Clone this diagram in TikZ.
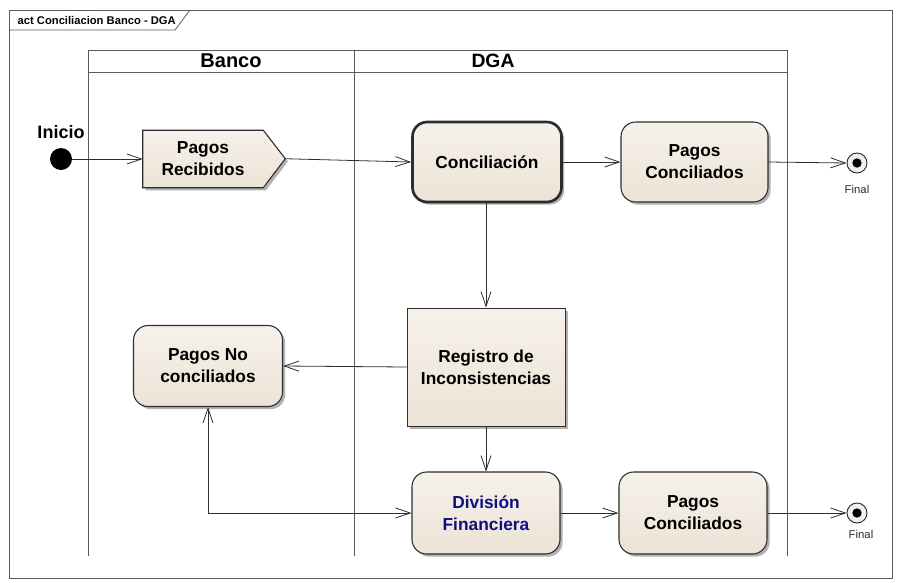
\documentclass[tikz,border=0pt]{standalone}
\usepackage{fontspec}
\setmainfont{Liberation Sans}
\usetikzlibrary{arrows.meta,shadows}
\definecolor{actfillA}{RGB}{246,241,234}
\definecolor{actfillB}{RGB}{236,227,214}
\definecolor{linecol}{RGB}{45,45,45}
\definecolor{framecol}{RGB}{90,90,90}
\definecolor{navytext}{RGB}{15,15,130}
\begin{document}
\begin{tikzpicture}[x=0.75pt,y=-0.75pt,
  conn/.style={draw=linecol, line width=0.6pt, -{Straight Barb[length=11pt,width=7.5pt,line width=0.6pt]}},
  conn2/.style={draw=linecol, line width=0.6pt, {Straight Barb[length=11pt,width=7.5pt,line width=0.6pt]}-{Straight Barb[length=11pt,width=7.5pt,line width=0.6pt]}},
  actbase/.style={draw=linecol, line width=0.8pt, top color=actfillA, bottom color=actfillB,
     drop shadow={shadow xshift=2pt,shadow yshift=-2pt,opacity=0.3,fill=black},
     align=center, inner sep=0pt, font=\bfseries\fontsize{13}{16.5}\selectfont},
  act/.style={actbase, rounded corners=11pt},
  lane/.style={draw=framecol, line width=0.7pt},
  finalc/.style={circle, draw=linecol, line width=0.7pt, fill=white!94!black, minimum size=15pt, inner sep=0pt},
  finaldot/.style={circle, fill=black, minimum size=7pt, inner sep=0pt},
  smalllbl/.style={font=\fontsize{8.5}{10}\selectfont, text=linecol}
]
\useasboundingbox (0,0) rectangle (898,582);
% frame
\draw[framecol, line width=0.6pt] (9,10) rectangle (892,578);
\draw[framecol, line width=0.6pt] (9,30) -- (175,30) -- (190,10);
\node[anchor=west, font=\bfseries\fontsize{8.4}{10}\selectfont] (title) at (13,20) {act Conciliacion Banco - DGA};
% swimlanes
\draw[lane] (88,50) -- (787,50);
\draw[lane] (88,72) -- (787,72);
\draw[lane] (88,50) -- (88,556);
\draw[lane] (354,50) -- (354,556);
\draw[lane] (787,50) -- (787,556);
\node[font=\bfseries\fontsize{15}{17}\selectfont] (banco) at (231,61) {Banco};
\node[font=\bfseries\fontsize{14.5}{17}\selectfont] (dga) at (493,61) {DGA};
% initial
\node[circle, fill=black, minimum size=16.5pt, inner sep=0pt] (ini) at (61,159) {};
\node[font=\bfseries\fontsize{13.5}{16}\selectfont] (inilbl) at (61,132) {Inicio};
% Pagos Recibidos (send signal)
\node[minimum width=90pt, minimum height=42.75pt, inner sep=0pt, align=center,
      font=\bfseries\fontsize{13}{16.5}\selectfont] (pr) at (203,159) {};
\path[actbase] (pr.north west) -- (pr.north east) -- ++(22,28.5) coordinate (prtip) -- (pr.south east) -- (pr.south west) -- cycle;
\node[align=center, font=\bfseries\fontsize{13}{16.5}\selectfont] (prtext) at (pr) {Pagos\\Recibidos};
% activities
\node[act, line width=2pt, minimum width=111.75pt, minimum height=60pt] (conc) at (487,162) {Conciliación};
\node[act, minimum width=110.25pt, minimum height=60pt] (pc1) at (694.5,162) {Pagos\\Conciliados};
\node[actbase, line width=0.7pt, minimum width=118.5pt, minimum height=88.5pt] (reg) at (486,367) {Registro de\\Inconsistencias};
\node[act, minimum width=111.75pt, minimum height=60.75pt] (pnc) at (208,366) {Pagos No\\conciliados};
\node[act, minimum width=111pt, minimum height=61.5pt, text=navytext] (div) at (486,513) {División\\Financiera};
\node[act, minimum width=111pt, minimum height=61.5pt] (pc2) at (693,513) {Pagos\\Conciliados};
% finals
\node[finalc] (fin1) at (857,163) {};
\node[finaldot] (fin1d) at (fin1) {};
\node[smalllbl] (fin1l) at (857,189) {Final};
\node[finalc] (fin2) at (857,513) {};
\node[finaldot] (fin2d) at (fin2) {};
\node[smalllbl] (fin2l) at (861,534) {Final};
% connectors
\draw[conn] (ini.east) -- (pr.west);
\draw[conn] (prtip) -- (conc.west);
\draw[conn] (conc.east) -- (pc1.west);
\draw[conn] (pc1.east) -- (fin1.west);
\draw[conn] (conc.south -| reg.north) -- (reg.north);
\draw[conn] (reg.west) -- (pnc.east);
\draw[conn] (reg.south) -- (div.north);
\draw[conn2] (pnc.south) |- (div.west);
\draw[conn] (div.east) -- (pc2.west);
\draw[conn] (pc2.east) -- (fin2.west);
\end{tikzpicture}
\end{document}
